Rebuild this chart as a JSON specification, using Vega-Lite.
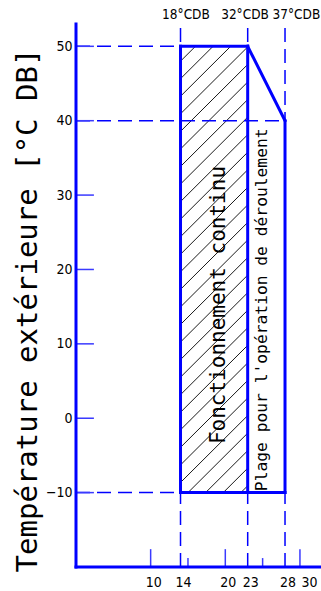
{
  "$schema": "https://vega.github.io/schema/vega-lite/v6.json",
  "width": 245,
  "height": 543,
  "autosize": "none",
  "padding": {"left": 76, "top": 24, "right": 0, "bottom": 24},
  "config": {"view": {"stroke": null}},
  "datasets": {
    "hatch": [
      {"x": 14, "y": 48, "x2": 16, "y2": 50},
      {"x": 14, "y": 45.64, "x2": 18.36, "y2": 50},
      {"x": 14, "y": 43.28, "x2": 20.72, "y2": 50},
      {"x": 14, "y": 40.92, "x2": 23, "y2": 49.92},
      {"x": 14, "y": 38.56, "x2": 23, "y2": 47.56},
      {"x": 14, "y": 36.2, "x2": 23, "y2": 45.2},
      {"x": 14, "y": 33.84, "x2": 23, "y2": 42.84},
      {"x": 14, "y": 31.48, "x2": 23, "y2": 40.48},
      {"x": 14, "y": 29.12, "x2": 23, "y2": 38.12},
      {"x": 14, "y": 26.76, "x2": 23, "y2": 35.76},
      {"x": 14, "y": 24.4, "x2": 23, "y2": 33.4},
      {"x": 14, "y": 22.04, "x2": 23, "y2": 31.04},
      {"x": 14, "y": 19.68, "x2": 23, "y2": 28.68},
      {"x": 14, "y": 17.32, "x2": 23, "y2": 26.32},
      {"x": 14, "y": 14.96, "x2": 23, "y2": 23.96},
      {"x": 14, "y": 12.6, "x2": 23, "y2": 21.6},
      {"x": 14, "y": 10.24, "x2": 23, "y2": 19.24},
      {"x": 14, "y": 7.88, "x2": 23, "y2": 16.88},
      {"x": 14, "y": 5.52, "x2": 23, "y2": 14.52},
      {"x": 14, "y": 3.16, "x2": 23, "y2": 12.16},
      {"x": 14, "y": 0.8, "x2": 23, "y2": 9.8},
      {"x": 14, "y": -1.56, "x2": 23, "y2": 7.44},
      {"x": 14, "y": -3.92, "x2": 23, "y2": 5.08},
      {"x": 14, "y": -6.28, "x2": 23, "y2": 2.72},
      {"x": 14, "y": -8.64, "x2": 23, "y2": 0.36},
      {"x": 15, "y": -10, "x2": 23, "y2": -2},
      {"x": 17.36, "y": -10, "x2": 23, "y2": -4.36},
      {"x": 19.72, "y": -10, "x2": 23, "y2": -6.72},
      {"x": 22.08, "y": -10, "x2": 23, "y2": -9.08}
    ],
    "dashed": [
      {"x": 0, "y": 50, "x2": 14, "y2": 50},
      {"x": 0, "y": 40, "x2": 28, "y2": 40},
      {"x": 0, "y": -10, "x2": 14, "y2": -10},
      {"x": 14, "y": -20, "x2": 14, "y2": 52.6},
      {"x": 23, "y": -20, "x2": 23, "y2": 52.6},
      {"x": 28, "y": -20, "x2": 28, "y2": 52.6}
    ],
    "ticks": [
      {"x": 0, "y": -10, "x2": 2.4, "y2": -10},
      {"x": 0, "y": 0, "x2": 2.4, "y2": 0},
      {"x": 0, "y": 10, "x2": 2.4, "y2": 10},
      {"x": 0, "y": 20, "x2": 2.4, "y2": 20},
      {"x": 0, "y": 30, "x2": 2.4, "y2": 30},
      {"x": 0, "y": 40, "x2": 2.4, "y2": 40},
      {"x": 0, "y": 50, "x2": 2.4, "y2": 50},
      {"x": 10, "y": -20, "x2": 10, "y2": -17.6},
      {"x": 20, "y": -20, "x2": 20, "y2": -17.6},
      {"x": 30, "y": -20, "x2": 30, "y2": -17.6},
      {"x": 15, "y": -20, "x2": 15, "y2": -18.8},
      {"x": 25, "y": -20, "x2": 25, "y2": -18.8}
    ],
    "solid": [
      {"x": 0, "y": -20, "x2": 0, "y2": 53},
      {"x": 0, "y": -20, "x2": 32.82, "y2": -20},
      {"x": 14, "y": -10, "x2": 14, "y2": 50},
      {"x": 14, "y": 50, "x2": 23, "y2": 50},
      {"x": 23, "y": 50, "x2": 23, "y2": -10},
      {"x": 14, "y": -10, "x2": 28, "y2": -10},
      {"x": 23, "y": 50, "x2": 28, "y2": 40},
      {"x": 28, "y": 40, "x2": 28, "y2": -10}
    ],
    "top": [
      {"x": 14.73, "y": 53.67, "label": "18°CDB"},
      {"x": 22.64, "y": 53.67, "label": "32°CDB"},
      {"x": 29.53, "y": 53.67, "label": "37°CDB"}
    ],
    "zone1": [{"x": 19.95, "y": 15.22, "label": "Fonctionnement continu"}],
    "zone2": [{"x": 25.57, "y": -9.8, "label": "Plage pour l'opération de déroulement"}]
  },
  "encoding": {
    "x": {
      "field": "x", "type": "quantitative",
      "scale": {"domain": [0, 32.82], "nice": false, "zero": false},
      "axis": {
        "values": [10, 14, 20, 23, 28, 30],
        "ticks": false, "domain": false, "grid": false, "title": null,
        "labelFont": "DejaVu Sans Condensed, sans-serif",
        "labelFontSize": 14, "labelColor": "black", "labelPadding": 8,
        "labelOffset": {"condition": {"test": "datum.value == 30", "value": 9}, "value": 2.5},
        "labelOverlap": false, "labelFlush": false, "labelBound": false
      }
    },
    "y": {
      "field": "y", "type": "quantitative",
      "scale": {"domain": [-20, 53], "nice": false, "zero": false},
      "axis": {
        "values": [-10, 0, 10, 20, 30, 40, 50],
        "ticks": false, "domain": false, "grid": false,
        "labelFont": "DejaVu Sans Condensed, sans-serif",
        "labelFontSize": 14, "labelColor": "black", "labelPadding": 4,
        "labelOverlap": false,
        "title": "Température extérieure [°C DB]",
        "titleFont": "DejaVu Sans Mono", "titleFontSize": 29, "titleFontWeight": "normal",
        "titleColor": "black", "titleAngle": -90, "titleX": -40, "titleY": 286,
        "titleAlign": "center", "titleBaseline": "alphabetic"
      }
    }
  },
  "layer": [
    {
      "data": {"name": "hatch"},
      "mark": {"type": "rule", "color": "black", "strokeWidth": 0.9},
      "encoding": {"x2": {"field": "x2"}, "y2": {"field": "y2"}}
    },
    {
      "data": {"name": "dashed"},
      "mark": {"type": "rule", "color": "#0000ff", "strokeWidth": 1.5, "strokeDash": [14, 7]},
      "encoding": {"x2": {"field": "x2"}, "y2": {"field": "y2"}}
    },
    {
      "data": {"name": "ticks"},
      "mark": {"type": "rule", "color": "#3a3aff", "strokeWidth": 1.5},
      "encoding": {"x2": {"field": "x2"}, "y2": {"field": "y2"}}
    },
    {
      "data": {"name": "solid"},
      "mark": {"type": "rule", "color": "#0000ff", "strokeWidth": 3, "strokeCap": "square"},
      "encoding": {"x2": {"field": "x2"}, "y2": {"field": "y2"}}
    },
    {
      "data": {"name": "top"},
      "mark": {"type": "text", "font": "DejaVu Sans Condensed, sans-serif", "fontSize": 13.5, "align": "center", "baseline": "alphabetic", "color": "black"},
      "encoding": {"text": {"field": "label"}}
    },
    {
      "data": {"name": "zone1"},
      "mark": {"type": "text", "font": "DejaVu Sans Mono", "fontSize": 21, "angle": 270, "align": "center", "baseline": "alphabetic", "color": "black"},
      "encoding": {"text": {"field": "label"}}
    },
    {
      "data": {"name": "zone2"},
      "mark": {"type": "text", "font": "DejaVu Sans Mono", "fontSize": 16.3, "angle": 270, "align": "left", "baseline": "alphabetic", "color": "black"},
      "encoding": {"text": {"field": "label"}}
    }
  ]
}
